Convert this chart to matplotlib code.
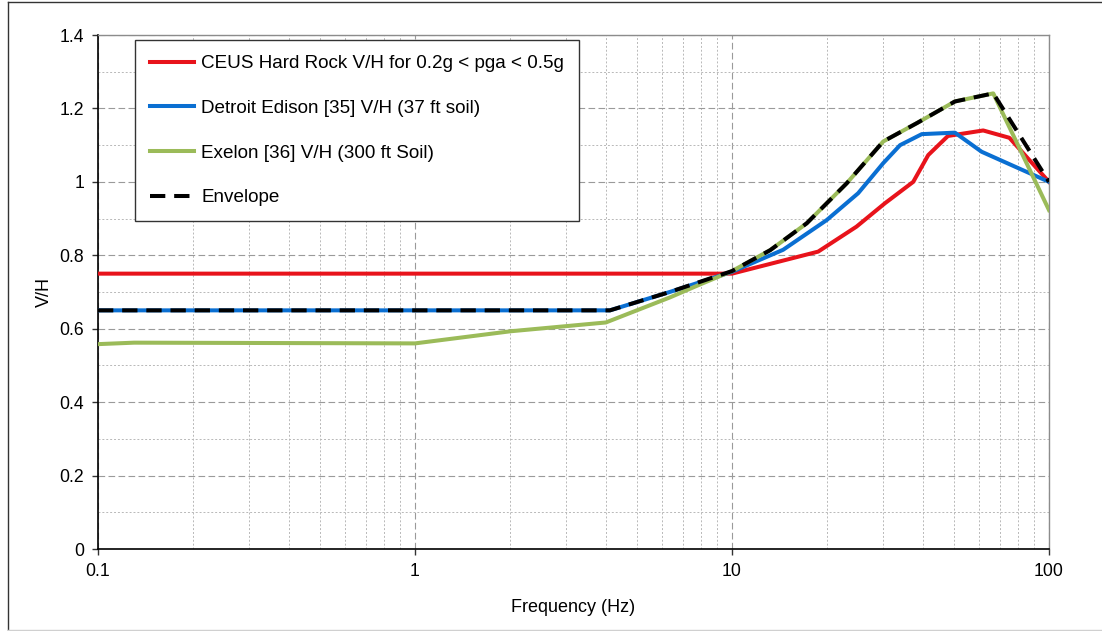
import matplotlib
matplotlib.use("Agg")
import matplotlib.pyplot as plt
from matplotlib.lines import Line2D
from matplotlib.ticker import FixedLocator, LogLocator, NullFormatter

plt.rcParams["font.family"] = ["Liberation Sans", "DejaVu Sans"]

# data
freq_ceus = [0.1, 10, 18.7, 24.7, 30.4, 37.3, 41.6, 48, 62, 75, 100]
vh_ceus = [0.75, 0.75, 0.81, 0.878, 0.942, 1.0, 1.073, 1.125, 1.14, 1.12, 1.0]

freq_de = [0.1, 4.12, 6.36, 10, 14.5, 19.9, 25, 30, 33.9, 39.7, 50.5, 61.3, 100]
vh_de = [0.65, 0.65, 0.70, 0.755, 0.815, 0.896, 0.969, 1.051, 1.10, 1.13,
         1.134, 1.082, 1.0]

freq_ex = [0.1, 0.13, 1.0, 2.0, 4.0, 6.36, 8, 10, 13.2, 17.2, 23, 30, 38.3,
           50.5, 66.7, 100]
vh_ex = [0.558, 0.562, 0.56, 0.593, 0.617, 0.685, 0.722, 0.757, 0.814, 0.887,
         0.996, 1.11, 1.16, 1.219, 1.241, 0.923]

freq_env = [0.1, 4.12, 6.36, 10, 13.2, 17.2, 23, 30, 38.3, 50.5, 66.7, 100]
vh_env = [0.65, 0.65, 0.70, 0.757, 0.814, 0.887, 0.996, 1.11, 1.16, 1.219,
          1.241, 1.0]

labels = ["CEUS Hard Rock V/H for 0.2g < pga < 0.5g",
          "Detroit Edison [35] V/H (37 ft soil)",
          "Exelon [36] V/H (300 ft Soil)",
          "Envelope"]
y_ticks = [0, 0.2, 0.4, 0.6, 0.8, 1.0, 1.2, 1.4]
y_labels = ["0", "0.2", "0.4", "0.6", "0.8", "1", "1.2", "1.4"]
x_ticks = [0.1, 1, 10, 100]
x_labels = ["0.1", "1", "10", "100"]

RED = "#e8131b"
BLUE = "#0a6fd2"
GREEN = "#9bbb59"

fig = plt.figure(figsize=(11.02, 6.31), dpi=100)
ax = fig.add_axes([98 / 1102, 82 / 631, 951 / 1102, 514 / 631])

lw = 2.9
ax.plot(freq_ceus, vh_ceus, color=RED, lw=lw, label=labels[0],
        solid_joinstyle="round", zorder=3)
ax.plot(freq_de, vh_de, color=BLUE, lw=lw, label=labels[1],
        solid_joinstyle="round", zorder=3)
ax.plot(freq_ex, vh_ex, color=GREEN, lw=lw, label=labels[2],
        solid_joinstyle="round", zorder=3)
ax.plot(freq_env, vh_env, color="black", lw=lw, label=labels[3],
        dashes=(3.8, 2.2), dash_capstyle="butt", zorder=4)

ax.set_xscale("log")
ax.set_xlim(0.1, 100)
ax.set_ylim(0, 1.4)
ax.xaxis.set_major_locator(FixedLocator(x_ticks))
ax.set_xticklabels(x_labels)
ax.xaxis.set_minor_locator(LogLocator(base=10, subs=range(2, 10)))
ax.xaxis.set_minor_formatter(NullFormatter())
ax.yaxis.set_major_locator(FixedLocator(y_ticks))
ax.set_yticklabels(y_labels)
ax.yaxis.set_minor_locator(FixedLocator([0.1, 0.3, 0.5, 0.7, 0.9, 1.1, 1.3]))

ax.grid(which="major", color="#9a9a9a", lw=0.8, ls=(0, (6, 3)), zorder=0)
ax.grid(which="minor", color="#b8b8b8", lw=0.7, ls=(0, (2, 2)), zorder=0)
ax.set_axisbelow(True)

ax.tick_params(which="major", direction="out", length=4, width=1,
               labelsize=12.7, pad=6, color="#333333")
ax.tick_params(which="minor", length=0)

for s in ["left", "bottom"]:
    ax.spines[s].set_color("black")
    ax.spines[s].set_linewidth(1.2)
for s in ["top", "right"]:
    ax.spines[s].set_color("#8c8c8c")
    ax.spines[s].set_linewidth(1.0)

ax.set_xlabel("Frequency (Hz)", fontsize=13, labelpad=14)
ax.set_ylabel("V/H", fontsize=13, labelpad=5)

leg = ax.legend(loc="upper left", bbox_to_anchor=(0.0389, 0.9903),
                borderaxespad=0, fontsize=13.6, handlelength=2.3,
                handletextpad=0.4, labelspacing=1.45, borderpad=0.8,
                fancybox=False, framealpha=1, edgecolor="#333333")
leg.get_frame().set_linewidth(1.0)

# outer frame of the picture
fig.add_artist(Line2D([7.5 / 1102, 7.5 / 1102], [1 / 631, 629 / 631],
                      transform=fig.transFigure, color="#333333", lw=1))
fig.add_artist(Line2D([7.5 / 1102, 1.0], [629 / 631, 629 / 631],
                      transform=fig.transFigure, color="#333333", lw=1))
fig.add_artist(Line2D([7.5 / 1102, 1.0], [1.5 / 631, 1.5 / 631],
                      transform=fig.transFigure, color="#d0d0d0", lw=1))

fig.savefig("out.png", dpi=100, facecolor="white")
